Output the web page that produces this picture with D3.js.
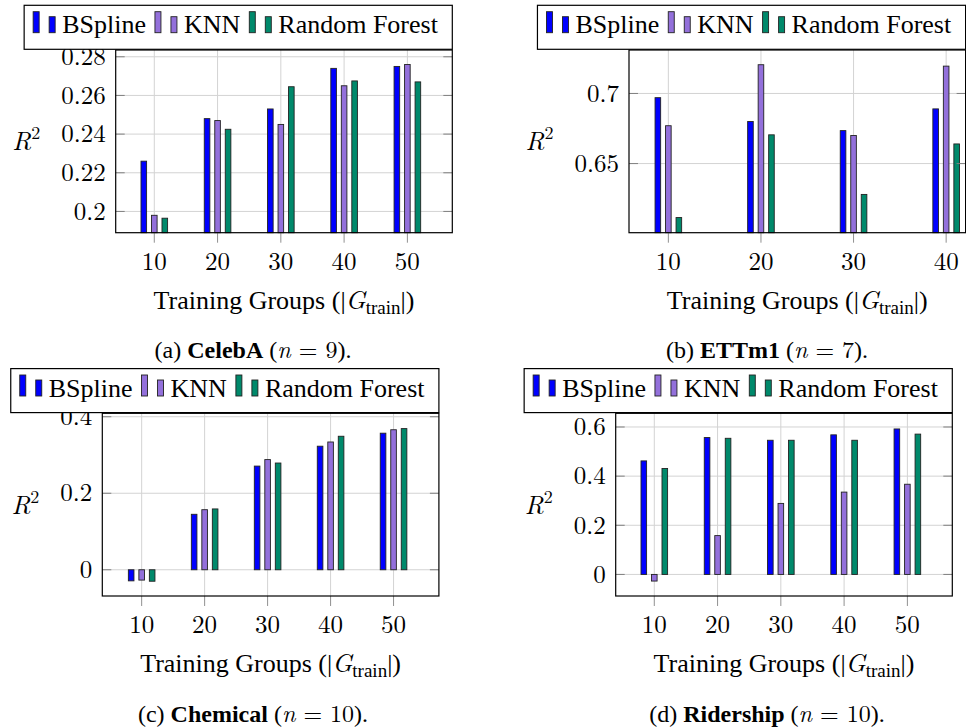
<!DOCTYPE html>
<html>
<head>
<meta charset="utf-8">
<script src="https://cdn.jsdelivr.net/npm/d3@7"></script>
<style>
  body { margin: 0; background: #fff; }
  svg { display: block; }
</style>
</head>
<body>
<svg id="chart" width="966" height="727"></svg>
<script>
// series
const seriesNames = ['BSpline', 'KNN', 'Random Forest'];
const seriesColors = ['#0000ff', '#9370db', '#00896b'];

// (a) CelebA
const celebaGroups = [10, 20, 30, 40, 50];
const celebaBSpline = [0.226, 0.248, 0.253, 0.274, 0.275];
const celebaKNN = [0.198, 0.247, 0.245, 0.265, 0.276];
const celebaRF = [0.1965, 0.2425, 0.2645, 0.2675, 0.267];
const celebaTicks = [0.2, 0.22, 0.24, 0.26, 0.28];

// (b) ETTm1
const ettGroups = [10, 20, 30, 40];
const ettBSpline = [0.697, 0.680, 0.6735, 0.689];
const ettKNN = [0.677, 0.7205, 0.670, 0.7195];
const ettRF = [0.6115, 0.6705, 0.628, 0.664];
const ettTicks = [0.65, 0.7];

// (c) Chemical
const chemGroups = [10, 20, 30, 40, 50];
const chemBSpline = [-0.029, 0.145, 0.271, 0.323, 0.357];
const chemKNN = [-0.027, 0.157, 0.288, 0.334, 0.366];
const chemRF = [-0.030, 0.159, 0.279, 0.349, 0.369];
const chemTicks = [0, 0.2, 0.4];

// (d) Ridership
const ridGroups = [10, 20, 30, 40, 50];
const ridBSpline = [0.462, 0.557, 0.546, 0.568, 0.592];
const ridKNN = [-0.027, 0.158, 0.289, 0.335, 0.367];
const ridRF = [0.431, 0.554, 0.546, 0.546, 0.571];
const ridTicks = [0, 0.2, 0.4, 0.6];

const panels = [
  { tag: '(a)', name: 'CelebA', n: 9, groups: celebaGroups, values: [celebaBSpline, celebaKNN, celebaRF],
    yTicks: celebaTicks, xDomain: [3.9, 57.1], yDomain: [0.189, 0.2835], left: 115.7, top: 50, capX: 253 },
  { tag: '(b)', name: 'ETTm1', n: 7, groups: ettGroups, values: [ettBSpline, ettKNN, ettRF],
    yTicks: ettTicks, xDomain: [5.75, 42.1], yDomain: [0.6007, 0.731], left: 629, top: 50, capX: 767 },
  { tag: '(c)', name: 'Chemical', n: 10, groups: chemGroups, values: [chemBSpline, chemKNN, chemRF],
    yTicks: chemTicks, xDomain: [3.75, 57.2], yDomain: [-0.0686, 0.409], left: 102.3, top: 413.3, capX: 253 },
  { tag: '(d)', name: 'Ridership', n: 10, groups: ridGroups, values: [ridBSpline, ridKNN, ridRF],
    yTicks: ridTicks, xDomain: [3.9, 57.1], yDomain: [-0.0878, 0.6557], left: 615.7, top: 413.3, capX: 767 }
];

const SERIF = 'Liberation Serif';
const MATH = 'Latin Modern Roman';
const W = 336.6, H = 182.7;
const barW = 5.6, barGap = 10.5;
const svg = d3.select('#chart');

panels.forEach((p) => {
  const g = svg.append('g').attr('transform', `translate(${p.left},${p.top})`);
  const x = d3.scaleLinear(p.xDomain, [0, W]);
  const y = d3.scaleLinear(p.yDomain, [H, 0]);
  const base = y(Math.max(p.yDomain[0], 0));

  // grid
  g.append('g').selectAll('line').data(p.groups).enter().append('line')
    .attr('x1', (d) => x(d)).attr('x2', (d) => x(d)).attr('y1', 0).attr('y2', H)
    .attr('stroke', '#d3d3d3').attr('stroke-width', 1);
  g.append('g').selectAll('line').data(p.yTicks).enter().append('line')
    .attr('x1', 0).attr('x2', W).attr('y1', (d) => y(d)).attr('y2', (d) => y(d))
    .attr('stroke', '#d3d3d3').attr('stroke-width', 1);

  // bars
  p.values.forEach((vals, si) => {
    g.append('g').selectAll('rect').data(vals).enter().append('rect')
      .attr('x', (d, i) => x(p.groups[i]) + (si - 1) * barGap - barW / 2)
      .attr('width', barW)
      .attr('y', (d) => Math.min(y(d), base))
      .attr('height', (d) => Math.abs(y(d) - base))
      .attr('fill', seriesColors[si])
      .attr('stroke', '#222').attr('stroke-width', 0.9);
  });

  // y ticks (inside, both sides)
  const yt = g.append('g');
  p.yTicks.forEach((t) => {
    yt.append('line').attr('x1', 0).attr('x2', 9).attr('y1', y(t)).attr('y2', y(t))
      .attr('stroke', '#808080').attr('stroke-width', 1);
    yt.append('line').attr('x1', W - 9).attr('x2', W).attr('y1', y(t)).attr('y2', y(t))
      .attr('stroke', '#808080').attr('stroke-width', 1);
  });
  // x ticks (outside, bottom)
  g.append('g').selectAll('line').data(p.groups).enter().append('line')
    .attr('x1', (d) => x(d)).attr('x2', (d) => x(d)).attr('y1', H).attr('y2', H + 10)
    .attr('stroke', '#909090').attr('stroke-width', 1);

  // frame
  g.append('rect').attr('width', W).attr('height', H)
    .attr('fill', 'none').attr('stroke', '#000').attr('stroke-width', 1.2);

  // tick labels
  const yLabels = g.append('g').selectAll('text').data(p.yTicks).enter().append('text')
    .attr('x', -10).attr('y', (d) => y(d)).attr('dy', '0.33em')
    .attr('text-anchor', 'end').attr('font-size', 25).style('font-family', MATH)
    .text((d) => String(d));
  g.append('g').selectAll('text').data(p.groups).enter().append('text')
    .attr('x', (d) => x(d)).attr('y', H + 37)
    .attr('text-anchor', 'middle').attr('font-size', 25).style('font-family', MATH)
    .text((d) => String(d));

  let maxW = 0;
  yLabels.each(function () { maxW = Math.max(maxW, this.getComputedTextLength()); });

  // y label R^2
  const rl = g.append('text').attr('x', -10 - maxW - 21).attr('y', H / 2 + 9)
    .attr('text-anchor', 'end').attr('font-size', 26).style('font-family', MATH);
  rl.append('tspan').attr('font-style', 'italic').text('R');
  rl.append('tspan').attr('font-size', 18).attr('dy', -11).text('2');

  // x label
  const xl = g.append('text').attr('x', W / 2).attr('y', H + 76)
    .attr('text-anchor', 'middle').attr('font-size', 26).style('font-family', SERIF);
  xl.append('tspan').text('Training Groups (|');
  xl.append('tspan').attr('font-style', 'italic').style('font-family', MATH).text('G');
  xl.append('tspan').attr('font-size', 19).attr('dy', 5).text('train');
  xl.append('tspan').attr('dy', -5).text('|)');

  // caption
  const cap = svg.append('text').attr('x', p.capX).attr('y', p.top + H + 125.5)
    .attr('text-anchor', 'middle').attr('font-size', 24).style('font-family', SERIF);
  cap.append('tspan').text(p.tag + ' ');
  cap.append('tspan').attr('font-weight', 'bold').text(p.name);
  cap.append('tspan').text(' (');
  cap.append('tspan').attr('font-style', 'italic').style('font-family', MATH).text('n');
  cap.append('tspan').style('font-family', MATH).text(` = ${p.n}`);
  cap.append('tspan').text(').');

  // legend, anchored to the frame's top right corner
  const lg = g.append('g');
  const box = lg.append('rect').attr('fill', '#fff').attr('stroke', '#000').attr('stroke-width', 1.2);
  let cx = 0;
  seriesNames.forEach((name, si) => {
    const r1 = cx + 12, r2 = cx + 28;
    lg.append('rect').attr('x', r1 - 3).attr('y', 6.4).attr('width', 6).attr('height', 21)
      .attr('fill', seriesColors[si]).attr('stroke', '#222').attr('stroke-width', 0.9);
    lg.append('rect').attr('x', r2 - 3).attr('y', 11.4).attr('width', 6).attr('height', 16)
      .attr('fill', seriesColors[si]).attr('stroke', '#222').attr('stroke-width', 0.9);
    const t = lg.append('text').attr('x', r1 + 26).attr('y', 28).attr('font-size', 26)
      .style('font-family', SERIF).text(name);
    cx = r1 + 26 + t.node().getComputedTextLength();
  });
  const lw = cx + 14.4, lh = 44;
  box.attr('width', lw).attr('height', lh);
  lg.attr('transform', `translate(${W - lw},${-lh - 0.7})`);
});
</script>
</body>
</html>
